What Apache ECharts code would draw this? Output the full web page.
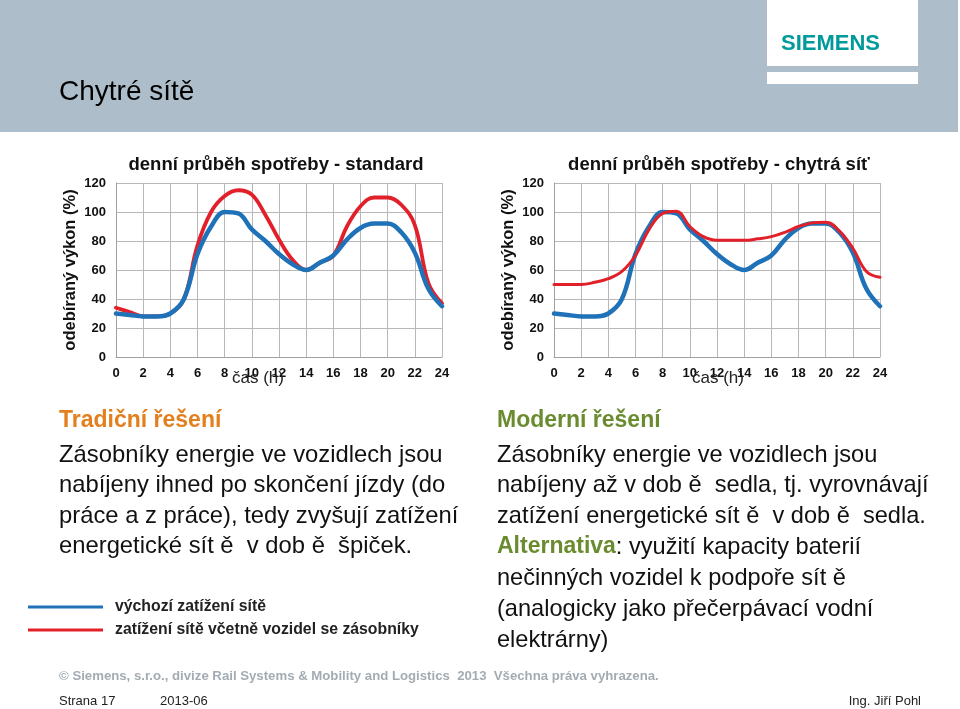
<!DOCTYPE html>
<html>
<head>
<meta charset="utf-8">
<script src="https://cdn.jsdelivr.net/npm/echarts@6/dist/echarts.min.js"></script>
<style>
  html, body { margin: 0; padding: 0; background: #fff; }
  #main { width: 960px; height: 709px; }
</style>
</head>
<body>
<div id="main"></div>
<script>
// hodiny dne (osa x)
var hours = [0, 1, 2, 3, 4, 5, 6, 7, 8, 9, 10, 11, 12, 13, 14, 15, 16, 17, 18, 19, 20, 21, 22, 23, 24];
var xTicks = [0, 2, 4, 6, 8, 10, 12, 14, 16, 18, 20, 22, 24];
var yTicks = [0, 20, 40, 60, 80, 100, 120];

// výchozí zatížení sítě (stejné v obou grafech)
var baseLoad = [30, 29, 28, 28, 30, 40, 71, 90, 100, 99, 88, 80, 71, 64, 60, 65, 70, 81, 89, 92, 92, 86, 72, 47, 35];
// standard - nabíjení hned po jízdě
var standardLoad = [34, 31, 28, 28, 30, 40, 77, 100, 111, 115, 112, 98, 81, 67, 60, 65, 70, 90, 104, 110, 110, 105, 91, 51, 37];
// chytrá síť - nabíjení v době sedla
var smartLoad = [50, 50, 50, 51.5, 54, 59, 70, 88, 99, 100.5, 90, 83, 80.5, 80.5, 80.5, 81.5, 83, 86, 90, 92.5, 93, 87, 75, 59, 55];

var blue = '#1f72b8';
var red = '#e2202a';
var font = '"Liberation Sans", Arial, sans-serif';

function pairs(vals) {
    return hours.map(function (h, i) { return [h, vals[i]]; });
}

function xAxisFor(idx) {
    return {
        gridIndex: idx, type: 'value', min: 0, max: 24, interval: 2,
        axisLine: { show: true, lineStyle: { color: '#a0a0a0' } },
        axisTick: { show: false },
        axisLabel: {
            margin: 10, color: '#111', fontWeight: 'bold', fontSize: 13, fontFamily: font,
            formatter: function (v) { return xTicks.indexOf(v) >= 0 ? String(v) : ''; }
        },
        splitLine: { show: true, lineStyle: { color: '#b8b8b8', width: 1 } }
    };
}

function yAxisFor(idx) {
    return {
        gridIndex: idx, type: 'value', min: 0, max: 120, interval: 20,
        name: 'odebíraný výkon (%)', nameLocation: 'middle', nameGap: 37,
        nameTextStyle: { color: '#111', fontWeight: 'bold', fontSize: 16.5, fontFamily: font },
        axisLine: { show: true, lineStyle: { color: '#a0a0a0' } },
        axisTick: { show: false },
        axisLabel: {
            margin: 10, color: '#111', fontWeight: 'bold', fontSize: 13, fontFamily: font,
            formatter: function (v) { return yTicks.indexOf(v) >= 0 ? String(v) : ''; }
        },
        splitLine: { show: true, lineStyle: { color: '#b8b8b8', width: 1 } }
    };
}

function line(idx, vals, color, width, z) {
    return {
        type: 'line', xAxisIndex: idx, yAxisIndex: idx, data: pairs(vals),
        smooth: 0.4, showSymbol: false, z: z,
        lineStyle: { color: color, width: width, cap: 'round', join: 'round' }
    };
}

function txt(x, y, text, size, color, weight, align) {
    return {
        type: 'text', x: x, y: y, z: 10,
        style: {
            text: text, fill: color || '#111', fontSize: size, fontFamily: font,
            fontWeight: weight || 'normal', align: align || 'left', verticalAlign: 'middle'
        }
    };
}

var myChart = echarts.init(document.getElementById('main'));

var graphics = [
    // záhlaví
    { type: 'rect', shape: { x: 0, y: 0, width: 958, height: 132 }, style: { fill: '#adbeca' }, z: 0 },
    { type: 'rect', shape: { x: 767, y: 0, width: 151, height: 66 }, style: { fill: '#ffffff' }, z: 1 },
    { type: 'rect', shape: { x: 767, y: 72, width: 151, height: 12 }, style: { fill: '#ffffff' }, z: 1 },
    txt(781, 44, 'SIEMENS', 22, '#009a9b', 'bold'),
    txt(59, 92, 'Chytré sítě', 28, '#000'),
    // osa x - popisky
    txt(258, 378, 'čas (h)', 17, '#222', 'normal', 'center'),
    txt(718, 378, 'čas (h)', 17, '#222', 'normal', 'center'),
    // levý text
    txt(59, 421, 'Tradiční řešení', 23, '#e47f1e', 'bold'),
    txt(59, 455, 'Zásobníky energie ve vozidlech jsou', 23.8, '#111'),
    txt(59, 485, 'nabíjeny ihned po skončení jízdy (do', 23.8, '#111'),
    txt(59, 516, 'práce a z práce), tedy zvyšují zatížení', 23.8, '#111'),
    txt(59, 546, 'energetické sít ě  v dob ě  špiček.', 23.8, '#111'),
    // legenda
    { type: 'line', shape: { x1: 28, y1: 607, x2: 103, y2: 607 }, style: { stroke: blue, lineWidth: 3 }, z: 5 },
    { type: 'line', shape: { x1: 28, y1: 630, x2: 103, y2: 630 }, style: { stroke: red, lineWidth: 3 }, z: 5 },
    txt(115, 607, 'výchozí zatížení sítě', 15.8, '#222', 'bold'),
    txt(115, 630, 'zatížení sítě včetně vozidel se zásobníky', 15.8, '#222', 'bold'),
    // pravý text
    txt(497, 421, 'Moderní řešení', 23, '#6a8c2f', 'bold'),
    txt(497, 455, 'Zásobníky energie ve vozidlech jsou', 23.6, '#111'),
    txt(497, 485, 'nabíjeny až v dob ě  sedla, tj. vyrovnávají', 23.6, '#111'),
    txt(497, 516, 'zatížení energetické sít ě  v dob ě  sedla.', 23.6, '#111'),
    {
        type: 'text', x: 497, y: 547, z: 10,
        style: {
            text: '{g|Alternativa}: využití kapacity baterií',
            fill: '#111', fontSize: 23.6, fontFamily: font, verticalAlign: 'middle',
            rich: { g: { fill: '#6a8c2f', fontWeight: 'bold', fontSize: 23, fontFamily: font } }
        }
    },
    txt(497, 578, 'nečinných vozidel k podpoře sít ě', 23.6, '#111'),
    txt(497, 609, '(analogicky jako přečerpávací vodní', 23.6, '#111'),
    txt(497, 640, 'elektrárny)', 23.6, '#111'),
    // zápatí
    txt(59, 676, '© Siemens, s.r.o., divize Rail Systems & Mobility and Logistics  2013  Všechna práva vyhrazena.', 13.2, '#a3acb3', 'bold'),
    txt(59, 701, 'Strana 17', 13, '#222'),
    txt(160, 701, '2013-06', 13, '#222'),
    txt(921, 701, 'Ing. Jiří Pohl', 13, '#222', 'normal', 'right')
];

var option = {
    animation: false,
    backgroundColor: '#ffffff',
    title: [
        { text: 'denní průběh spotřeby - standard', left: 271, top: 150, textAlign: 'center',
          textStyle: { fontSize: 18.5, fontWeight: 'bold', color: '#111', fontFamily: font } },
        { text: 'denní průběh spotřeby - chytrá síť', left: 714, top: 150, textAlign: 'center',
          textStyle: { fontSize: 18.5, fontWeight: 'bold', color: '#111', fontFamily: font } }
    ],
    grid: [
        { left: 116, right: 518, top: 183, bottom: 352 },
        { left: 554, right: 80, top: 183, bottom: 352 }
    ],
    xAxis: [xAxisFor(0), xAxisFor(1)],
    yAxis: [yAxisFor(0), yAxisFor(1)],
    series: [
        line(0, standardLoad, red, 3.8, 2),
        line(0, baseLoad, blue, 4.5, 3),
        line(1, baseLoad, blue, 4.5, 2),
        line(1, smartLoad, red, 3, 3)
    ],
    graphic: graphics
};

myChart.setOption(option);
</script>
</body>
</html>
